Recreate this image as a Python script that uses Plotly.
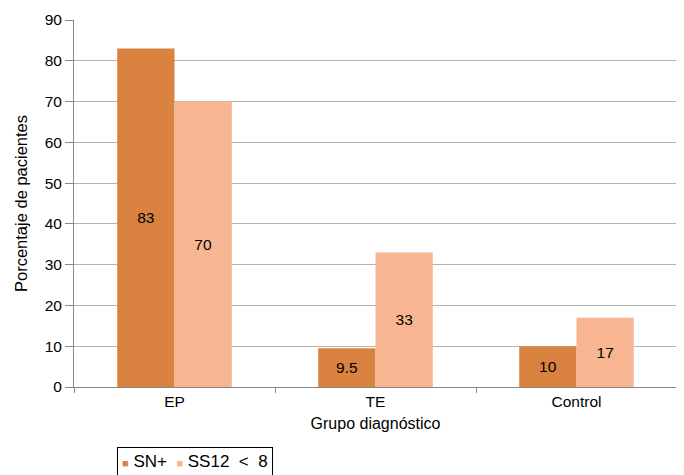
import plotly.graph_objects as go

categories = ["EP", "TE", "Control"]
sn_plus = [83, 9.5, 10]
ss12 = [70, 33, 17]
sn_labels = ["83", "9.5", "10"]
ss_labels = ["70", "33", "17"]
y_ticks = [0, 10, 20, 30, 40, 50, 60, 70, 80, 90]
series_names = ["SN+", "SS12 &lt; 8"]
series_colors = ["#DA823F", "#F8B591"]

font = "Liberation Sans, Arial, Helvetica, sans-serif"

# the page body keeps its default 8px margin, so the figure is offset by 8px
OFF = 8
W, H = 684 - OFF, 475 - OFF
ML, MT, MR, MB = 74 - OFF, 20 - OFF, 7, 88
plot_h = H - MT - MB
plot_w = W - ML - MR

fig = go.Figure()
for name, vals, labels, col in zip(series_names, [sn_plus, ss12], [sn_labels, ss_labels], series_colors):
    fig.add_trace(go.Bar(x=categories, y=vals, name=name, marker_color=col,
                         marker_line_width=0, text=labels, textposition="inside",
                         insidetextanchor="middle", textfont=dict(color="black", size=15.5),
                         hoverinfo="skip"))

legend_text = "  ".join(
    f"<span style='color:{c};font-size:11px'>■</span> {n}" for n, c in zip(series_names, series_colors)
)
legend_text = legend_text.replace("&lt;", "&nbsp;&lt;&nbsp;")

fig.update_layout(
    width=W, height=H,
    margin=dict(l=ML, r=MR, t=MT, b=MB),
    paper_bgcolor="white", plot_bgcolor="white",
    font=dict(family=font, size=15.5, color="black"),
    barmode="group", bargap=0.43, bargroupgap=0,
    showlegend=False,
    uniformtext=dict(minsize=15, mode="show"),
    annotations=[dict(
        text=legend_text, xref="paper", yref="paper",
        x=(117 - 74) / plot_w, y=-(447 - 387) / plot_h, xanchor="left", yanchor="top",
        showarrow=False, align="left", bordercolor="black", borderwidth=1,
        borderpad=4, font=dict(size=17, color="black"), bgcolor="white",
    )],
)
fig.update_xaxes(
    title=dict(text="Grupo diagnóstico", font=dict(size=16), standoff=9),
    showline=True, linecolor="#888888", linewidth=1,
    ticks="outside", tickson="boundaries", ticklen=5, tickcolor="#888888",
    showgrid=False, automargin=False,
)
fig.update_yaxes(
    title=dict(text="Porcentaje de pacientes", font=dict(size=16.5), standoff=12),
    range=[0, 90], tickvals=y_ticks,
    showline=True, linecolor="#888888", linewidth=1,
    ticks="outside", ticklen=8, tickcolor="#888888",
    showgrid=True, gridcolor="#B4B4B4", gridwidth=1, zeroline=False,
    automargin=False,
)

fig.write_html("out.html")
